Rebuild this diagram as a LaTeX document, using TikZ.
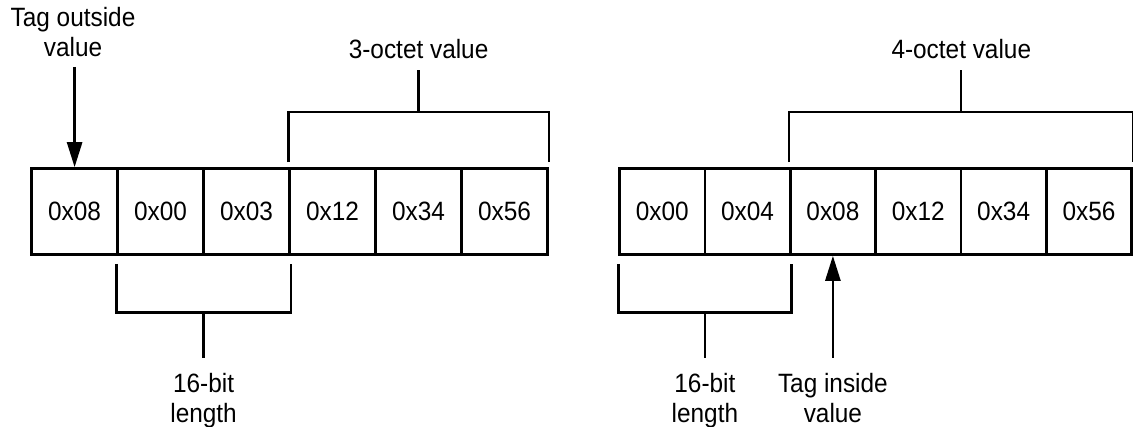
\documentclass[tikz,border=0pt]{standalone}
\usepackage{fontspec}
\setmainfont{Liberation Sans}[FakeStretch=0.92]
\usetikzlibrary{arrows.meta,calc}
\begin{document}
\begin{tikzpicture}[x=1pt,y=-1pt,line width=2.6pt,
  txt/.style={font=\fontsize{26.5}{30}\selectfont},
  cellL/.style={draw,txt,minimum width=86pt,minimum height=86pt,inner sep=0pt},
  cellR/.style={draw,txt,minimum width=85.37pt,minimum height=86pt,inner sep=0pt},
  lbl/.style={txt,align=center,inner sep=0pt},
  tip/.style={-{Triangle[length=25pt,width=15pt]}}]
\useasboundingbox (0,0) rectangle (1133,427);
% left row
\node[cellL] (L1) at (74.6,211.5) {0x08};
\node[cellL] (L2) at (160.6,211.5) {0x00};
\node[cellL] (L3) at (246.6,211.5) {0x03};
\node[cellL] (L4) at (332.6,211.5) {0x12};
\node[cellL] (L5) at (418.6,211.5) {0x34};
\node[cellL] (L6) at (504.6,211.5) {0x56};
% right row
\node[cellR] (R1) at (662.2,211.5) {0x00};
\node[cellR] (R2) at (747.55,211.5) {0x04};
\node[cellR] (R3) at (832.9,211.5) {0x08};
\node[cellR] (R4) at (918.3,211.5) {0x12};
\node[cellR] (R5) at (1003.65,211.5) {0x34};
\node[cellR] (R6) at (1089.0,211.5) {0x56};
% labels
\node[lbl,anchor=south,inner ysep=9pt] (tagout) at (73,67) {Tag outside\\value};
\node[lbl,anchor=base,inner ysep=10pt] (oct3) at (418.6,58.3) {3-octet value};
\node[lbl,anchor=base,inner ysep=10pt] (oct4) at (961.3,58.3) {4-octet value};
\node[lbl,anchor=north,inner ysep=14pt] (len1) at (203.6,358) {16-bit\\length};
\node[lbl,anchor=north,inner ysep=14pt] (len2) at (704.9,358) {16-bit\\length};
\node[lbl,anchor=north,inner ysep=14pt] (tagin) at (832.9,358) {Tag inside\\value};
% left top bracket
\coordinate (tb1) at ($([yshift=55pt]L4.north west)!0.5!([yshift=55pt]L6.north east)$);
\draw ([yshift=5pt]L4.north west) -- ([yshift=55pt]L4.north west) -- ([yshift=55pt]L6.north east) -- ([yshift=5pt]L6.north east);
\draw (tb1) -- (tb1 |- oct3.south);
% right top bracket
\coordinate (tb2) at ($([yshift=55pt]R3.north west)!0.5!([yshift=55pt]R6.north east)$);
\draw ([yshift=5pt]R3.north west) -- ([yshift=55pt]R3.north west) -- ([yshift=55pt]R6.north east) -- ([yshift=5pt]R6.north east);
\draw (tb2) -- (tb2 |- oct4.south);
% left bottom bracket
\coordinate (bb1) at ($([yshift=-57pt]L2.south west)!0.5!([yshift=-57pt]L3.south east)$);
\draw ([yshift=-8pt]L2.south west) -- ([yshift=-57pt]L2.south west) -- ([yshift=-57pt]L3.south east) -- ([yshift=-8pt]L3.south east);
\draw (bb1) -- (bb1 |- len1.north);
% right bottom bracket
\coordinate (bb2) at ($([yshift=-57pt]R1.south west)!0.5!([yshift=-57pt]R2.south east)$);
\draw ([yshift=-8pt]R1.south west) -- ([yshift=-57pt]R1.south west) -- ([yshift=-57pt]R2.south east) -- ([yshift=-8pt]R2.south east);
\draw (bb2) -- (bb2 |- len2.north);
% arrows
\draw[tip] (L1.north |- tagout.south) -- (L1.north);
\draw[tip] (R3.south |- tagin.north) -- (R3.south);
\end{tikzpicture}
\end{document}
